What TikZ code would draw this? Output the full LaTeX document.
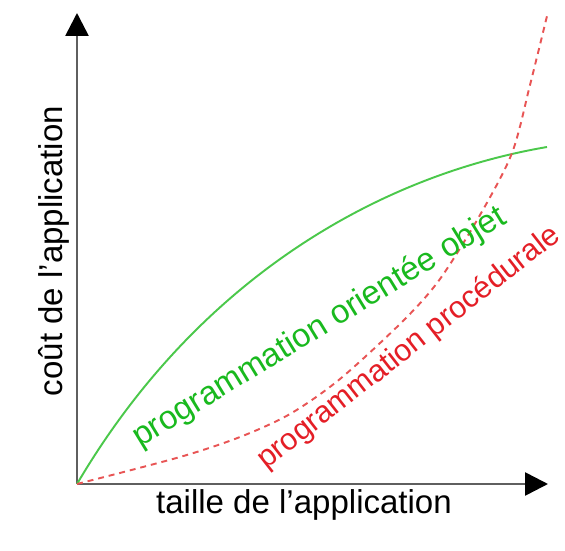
\documentclass[tikz,border=0pt]{standalone}
\usepackage{fontspec}
\setmainfont{Liberation Sans}
\usetikzlibrary{arrows.meta}
\definecolor{axisgray}{RGB}{95,95,95}
\definecolor{objgreen}{RGB}{25,185,30}
\definecolor{objline}{RGB}{75,200,75}
\definecolor{procred}{RGB}{228,30,38}
\definecolor{procline}{RGB}{232,85,85}
\tikzset{
  axis/.style={draw=axisgray, line width=1.5pt,
    -{Triangle[length=13pt,width=13pt,color=black]}},
  objcurve/.style={draw=objline, line width=1.1pt},
  proccurve/.style={draw=procline, line width=1.1pt, dash pattern=on 3.4pt off 2.8pt},
  lbl/.style={inner sep=0pt, font=\fontsize{18.8}{22}\selectfont}
}
\begin{document}
\begin{tikzpicture}[x=0.02cm,y=-0.02cm]
      \useasboundingbox (0,0) rectangle (565,551);
      \coordinate (O) at (77,484);
      \coordinate (ytop) at (77,13);
      \coordinate (xend) at (548,484);
      \coordinate (objend) at (547,147);
      \coordinate (procend) at (547,16);
      % axes
      \draw[axis] (O) -- (ytop);
      \draw[axis] (O) -- (xend);
      % curves
      \draw[objcurve] (O) .. controls (197,280) and (377,176) .. (objend);
      \draw[proccurve] plot[smooth] coordinates
        {(77,484) (180,457) (240,437) (290,414) (340,379) (403,321) (440,279) (480,215) (512,153) (530,85) (547,16)};
      % labels
      \node[lbl, anchor=base] (taille) at (304,513) {taille de l’application};
      \node[lbl, anchor=base, rotate=90] (cout) at (62,251) {coût de l'application};
      \node[lbl, anchor=base west, rotate=31.5, text=objgreen] (objet)
        at (140,448) {programmation orientée objet};
      \node[lbl, anchor=base west, rotate=38, text=procred,
        font=\fontsize{17.4}{20}\selectfont] (proc) at (266,470) {programmation procédurale};
    \end{tikzpicture}
\end{document}
